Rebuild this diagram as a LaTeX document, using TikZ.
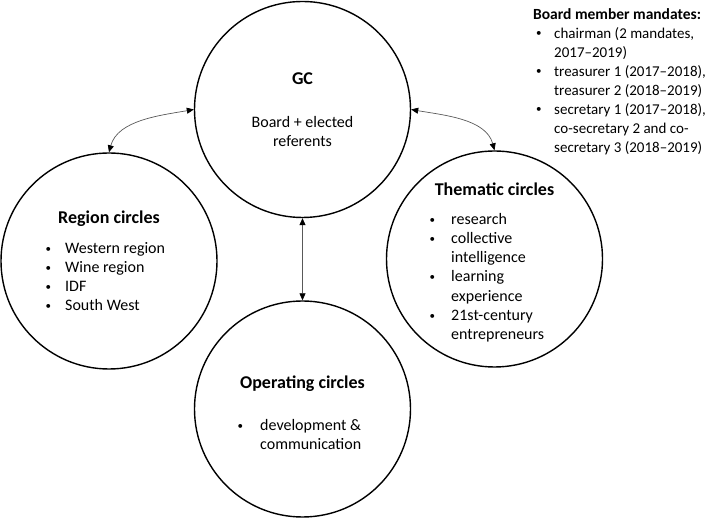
\documentclass[tikz,border=0pt]{standalone}
\usepackage{fontspec}
\setmainfont{Carlito}
\usetikzlibrary{arrows.meta}
\newcommand{\bdot}{\raisebox{1.2pt}{\fontsize{11pt}{11pt}\selectfont •}}
\newcommand{\itm}[2]{\makebox[#1][l]{\bdot}#2}
\newcommand{\cnt}[2]{\hspace*{#1}#2}
\tikzset{
  tip/.style={Triangle[length=7pt,width=6pt,color=black,fill=black]},
  circ/.style={circle, draw=black, line width=1.4pt, minimum size=216pt, inner sep=0pt},
  arr/.style={{Triangle[length=7pt,width=6pt,color=black,fill=black]}-{Triangle[length=7pt,width=6pt,color=black,fill=black]}, draw=black!65, line width=0.7pt},
  ttl/.style={font=\fontsize{18pt}{21.6pt}\selectfont\bfseries, inner sep=0pt, anchor=base},
  lst/.style={font=\fontsize{16pt}{19.2pt}\selectfont, align=left, inner sep=0pt, anchor=north west},
  ctr/.style={font=\fontsize{16pt}{19.2pt}\selectfont, align=center, inner sep=0pt, anchor=north}
}
\begin{document}
\begin{tikzpicture}[x=1pt,y=1pt]
\useasboundingbox (0,0) rectangle (709,521);
% circles
\node[circ] (gc) at (302.5,411.5) {};
\node[circ] (region) at (109,260) {};
\node[circ] (thematic) at (494.5,262) {};
\node[circ] (operating) at (302.5,112) {};
% GC text
\node[ttl] (gctitle) at (302.5,436.2) {GC};
\node[ctr] (gctext) at (302.5,407.4) {\strut Board + elected\\referents};
% Region
\node[ttl] (regtitle) at (109,297.2) {Region circles};
\node[lst] (reglist) at (45.5,281.4) {\strut\itm{19.5pt}{Western region}\\\itm{19.5pt}{Wine region}\\\itm{19.5pt}{IDF}\\\itm{19.5pt}{South West}};
% Thematic
\node[ttl] (thetitle) at (494.5,325.2) {Thematic circles};
\node[lst] (thelist) at (429.5,310.4) {\strut\itm{21.5pt}{research}\\\itm{21.5pt}{collective}\\\cnt{21.5pt}{intelligence}\\\itm{21.5pt}{learning}\\\cnt{21.5pt}{experience}\\\itm{21.5pt}{21st-century}\\\cnt{21.5pt}{entrepreneurs}};
% Operating
\node[ttl] (optitle) at (302.5,132.2) {Operating circles};
\node[lst] (oplist) at (237.5,104.4) {\strut\itm{22.5pt}{development \&}\\\cnt{22.5pt}{communication}};
% Legend
\node[font=\fontsize{15.5pt}{18pt}\selectfont\bfseries, inner sep=0pt, anchor=base west] (legtitle) at (533,501) {Board member mandates:};
\node[lst, font=\fontsize{15pt}{19pt}\selectfont] (leglist) at (536,496.4) {\strut\itm{18pt}{chairman (2 mandates,}\\\cnt{18pt}{2017–2019)}\\\itm{18pt}{treasurer 1 (2017–2018),}\\\cnt{18pt}{treasurer 2 (2018–2019)}\\\itm{18pt}{secretary 1 (2017–2018),}\\\cnt{18pt}{co-secretary 2 and co-}\\\cnt{18pt}{secretary 3 (2018–2019)}};
% connectors
\draw[arr] (region.north) to[out=75,in=190,looseness=0.9] (gc.west);
\draw[arr] (gc.east) to[out=-10,in=105,looseness=0.9] (thematic.north);
\draw[arr] (gc.south) -- (operating.north);
\end{tikzpicture}
\end{document}
